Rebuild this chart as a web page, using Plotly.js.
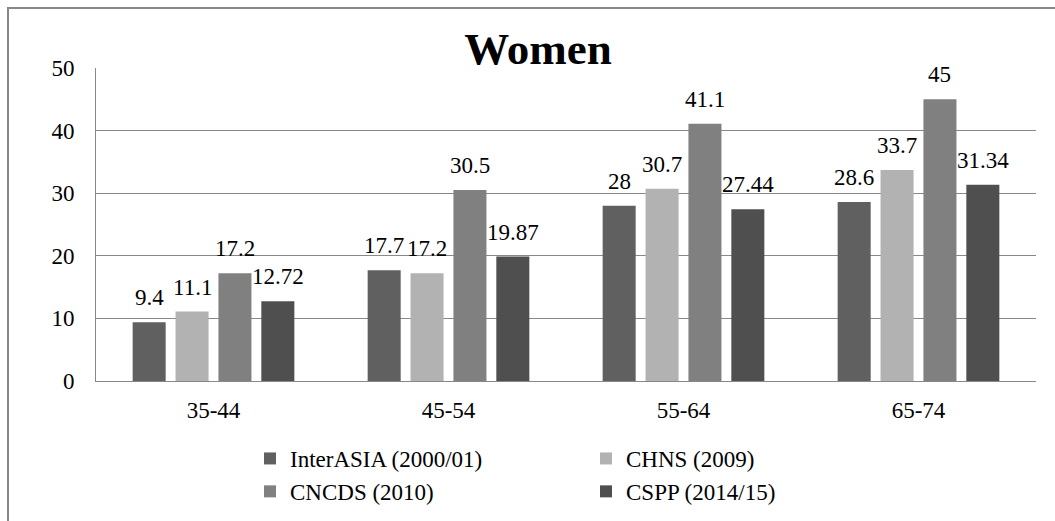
<!DOCTYPE html>
<html>
<head>
<meta charset="utf-8">
<script src="https://cdn.plot.ly/plotly-3.0.1.min.js"></script>
<style>html,body{margin:0;padding:0;background:#fff;}#chart{width:1055px;height:521px;}</style>
</head>
<body>
<div id="chart"></div>
<script>
const categories = ['35-44', '45-54', '55-64', '65-74'];
const seriesNames = ['InterASIA (2000/01)', 'CHNS (2009)', 'CNCDS (2010)', 'CSPP (2014/15)'];
const interAsia = [9.4, 17.7, 28, 28.6];
const chns = [11.1, 17.2, 30.7, 33.7];
const cncds = [17.2, 30.5, 41.1, 45];
const cspp = [12.72, 19.87, 27.44, 31.34];
const seriesColors = ['#606060', '#b2b2b2', '#808080', '#4f4f4f'];
const yTicks = [0, 10, 20, 30, 40, 50];

const FONT = 'Liberation Serif, serif';
const allSeries = [interAsia, chns, cncds, cspp];

const W = 1055, H = 521;
const M = {l: 96, r: 19, t: 68, b: 140, autoexpand: false};
const BARGAP = 0.27, BARGROUPGAP = 0.23;

const traces = allSeries.map((vals, i) => ({
  type: 'bar',
  name: seriesNames[i],
  x: categories,
  y: vals,
  marker: {color: seriesColors[i]},
  hoverinfo: 'x+y+name'
}));

// value labels placed above each bar (offset within its group slot)
const plotW = W - M.l - M.r;
const plotH = H - M.t - M.b;
const catW = plotW / categories.length;
const slotW = catW * (1 - BARGAP) / allSeries.length;
const annotations = [];
allSeries.forEach((vals, i) => {
  vals.forEach((v, j) => {
    annotations.push({
      x: categories[j], y: v, xref: 'x', yref: 'y',
      xshift: (i - (allSeries.length - 1) / 2) * slotW,
      yshift: 10, yanchor: 'bottom', xanchor: 'center',
      text: String(v), showarrow: false,
      font: {family: FONT, size: 23, color: '#000'}
    });
  });
});

const layout = {
  width: W, height: H,
  paper_bgcolor: '#fff', plot_bgcolor: '#fff',
  margin: M,
  font: {family: FONT, size: 23, color: '#000'},
  title: {text: '<b>Women</b>', font: {family: FONT, size: 45, color: '#000'},
          xref: 'container', x: 538 / W, xanchor: 'center',
          yref: 'container', y: 1 - 48 / H, yanchor: 'middle'},
  barmode: 'group',
  bargap: BARGAP,
  bargroupgap: BARGROUPGAP,
  xaxis: {type: 'category', showgrid: false, showline: true, linecolor: '#888', linewidth: 1,
          ticks: '', ticklabelstandoff: 8, tickfont: {family: FONT, size: 23, color: '#000'}},
  yaxis: {range: [0, 50], tickvals: yTicks, showgrid: true, gridcolor: '#888', gridwidth: 1,
          zeroline: false, showline: true, linecolor: '#888', linewidth: 1, ticks: '',
          ticklabelstandoff: 16, tickfont: {family: FONT, size: 23, color: '#000'}},
  showlegend: true,
  legend: {orientation: 'h', x: (250 - 96) / plotW, xanchor: 'left', y: (381 - 437) / plotH, yanchor: 'top',
           entrywidth: 291, entrywidthmode: 'pixels', font: {family: FONT, size: 23, color: '#000'},
           traceorder: 'normal', bgcolor: 'rgba(0,0,0,0)'},
  annotations: annotations,
  shapes: [{type: 'rect', xref: 'paper', yref: 'paper',
            x0: (8 - 96) / plotW, x1: (1065 - 96) / plotW,
            y0: (381 - 535) / plotH, y1: (381 - 8) / plotH,
            line: {color: '#888', width: 2}, fillcolor: 'rgba(0,0,0,0)', layer: 'below'}]
};

Plotly.newPlot('chart', traces, layout, {displayModeBar: false, staticPlot: true});
</script>
</body>
</html>
